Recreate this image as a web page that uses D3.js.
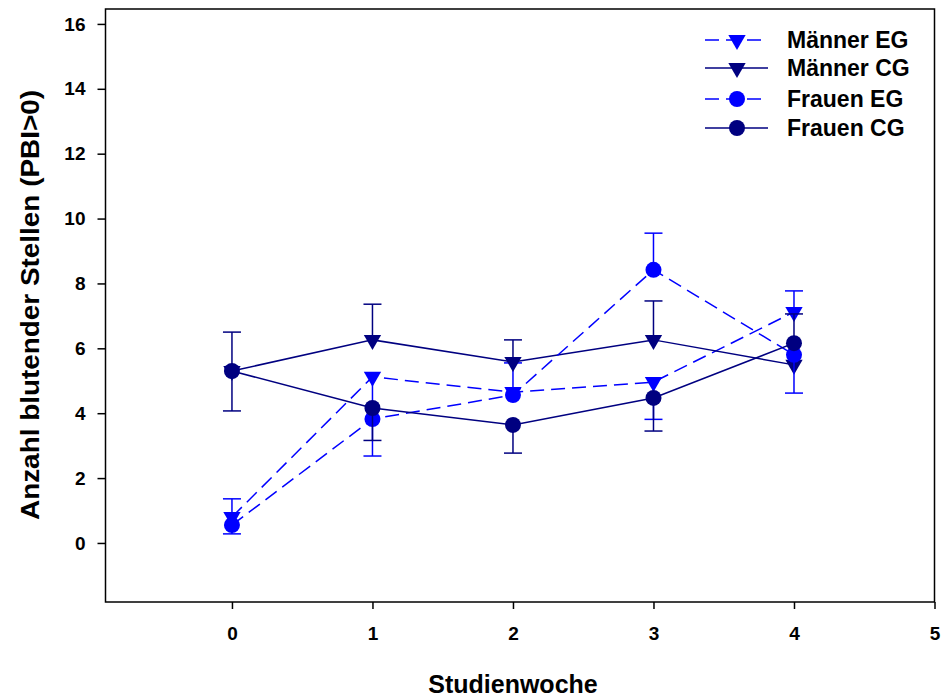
<!DOCTYPE html>
<html><head><meta charset="utf-8">
<script src="https://cdn.jsdelivr.net/npm/d3@7/dist/d3.min.js"></script>
<style>body{margin:0;background:#fff}text{font-family:Arial,"Liberation Sans",sans-serif;font-weight:bold}</style>
</head><body><svg id="c" width="944" height="697"></svg>
<script>
const weeks = [0, 1, 2, 3, 4];
const xTicks = [0, 1, 2, 3, 4, 5];
const yTicks = [0, 2, 4, 6, 8, 10, 12, 14, 16];
const seriesNames = ["Männer EG", "Männer CG", "Frauen EG", "Frauen CG"];
const maennerEG = [0.8, 5.12, 4.65, 4.96, 7.12];
const maennerCG = [5.3, 6.26, 5.58, 6.26, 5.49];
const frauenEG = [0.55, 3.82, 4.56, 8.42, 5.8];
const frauenCG = [5.3, 4.16, 3.64, 4.47, 6.16];
// signed error bars (+ up, - down, 0 none)
const maennerEGErr = [0.56, -2.44, 0.9, -1.15, 0.65];
const maennerCGErr = [1.2, 1.1, 0.68, 1.2, 0];
const frauenEGErr = [-0.27, 0, 0, 1.13, -1.18];
const frauenCGErr = [-1.23, -1.0, -0.87, -1.02, 0.9];

const svg = d3.select("#c");
const L = 105.5, R = 934.5, T = 9, B = 602;
const x = d3.scaleLinear().domain([-0.9, 5]).range([L, R]);
const y = d3.scaleLinear().domain([-1.82, 16.46]).range([B, T]);

const series = [
  {name: seriesNames[0], vals: maennerEG, err: maennerEGErr, color: "#0000ff", dash: "14,7", sym: "tri"},
  {name: seriesNames[1], vals: maennerCG, err: maennerCGErr, color: "#000080", dash: null, sym: "tri"},
  {name: seriesNames[2], vals: frauenEG, err: frauenEGErr, color: "#0000ff", dash: "14,7", sym: "circ"},
  {name: seriesNames[3], vals: frauenCG, err: frauenCGErr, color: "#000080", dash: null, sym: "circ"}
];

svg.append("rect").attr("x", L).attr("y", T).attr("width", R - L).attr("height", B - T)
  .attr("fill", "none").attr("stroke", "#000").attr("stroke-width", 1.5);

const xa = svg.append("g").attr("transform", `translate(0,${B})`)
  .call(d3.axisBottom(x).tickValues(xTicks).tickSize(7).tickPadding(18).tickFormat(d3.format("d")));
xa.select(".domain").remove();
const ya = svg.append("g").attr("transform", `translate(${L},0)`)
  .call(d3.axisLeft(y).tickValues(yTicks).tickSize(8).tickPadding(12).tickFormat(d3.format("d")));
ya.select(".domain").remove();
svg.selectAll(".tick line").attr("stroke", "#000").attr("stroke-width", 1.5);
svg.selectAll(".tick text").attr("font-size", 19).attr("font-family", "Arial,'Liberation Sans',sans-serif").attr("font-weight", "bold").attr("fill", "#000");

svg.append("text").attr("x", 513).attr("y", 693).attr("text-anchor", "middle").attr("font-size", 25).text("Studienwoche");
svg.append("text").attr("transform", "translate(39,305) rotate(-90)").attr("text-anchor", "middle").attr("font-size", 25)
  .attr("textLength", 430).attr("lengthAdjust", "spacingAndGlyphs").text("Anzahl blutender Stellen (PBI>0)");

const tri = d3.symbol().type(d3.symbolTriangle).size(130);
function marker(g, sym, cx, cy, color) {
  if (sym === "circ") {
    g.append("circle").attr("cx", cx).attr("cy", cy).attr("r", 8).attr("fill", color);
  } else {
    g.append("path").attr("d", tri()).attr("transform", `translate(${cx},${cy}) rotate(180)`).attr("fill", color);
  }
}

const line = d3.line().x((d, i) => x(weeks[i])).y(d => y(d));
series.forEach(s => {
  const g = svg.append("g");
  s.err.forEach((e, i) => {
    if (!e) return;
    const cx = x(weeks[i]), y0 = y(s.vals[i]), y1 = y(s.vals[i] + e);
    g.append("line").attr("x1", cx).attr("x2", cx).attr("y1", y0).attr("y2", y1).attr("stroke", s.color).attr("stroke-width", 1.5);
    g.append("line").attr("x1", cx - 9).attr("x2", cx + 9).attr("y1", y1).attr("y2", y1).attr("stroke", s.color).attr("stroke-width", 1.5);
  });
  g.append("path").attr("d", line(s.vals)).attr("fill", "none").attr("stroke", s.color)
    .attr("stroke-width", 1.5).attr("stroke-dasharray", s.dash);
  s.vals.forEach((v, i) => marker(g, s.sym, x(weeks[i]), y(v), s.color));
});

const legY = [40, 68, 99, 128];
series.forEach((s, i) => {
  const g = svg.append("g");
  const yy = legY[i];
  g.append("line").attr("x1", 705).attr("x2", 768).attr("y1", yy).attr("y2", yy).attr("stroke", s.color)
    .attr("stroke-width", 1.5).attr("stroke-dasharray", s.dash ? "14,7" : null);
  marker(g, s.sym, 737, yy, s.color);
  g.append("text").attr("x", 787).attr("y", yy + 8).attr("font-size", 23).text(s.name);
});
</script></body></html>
